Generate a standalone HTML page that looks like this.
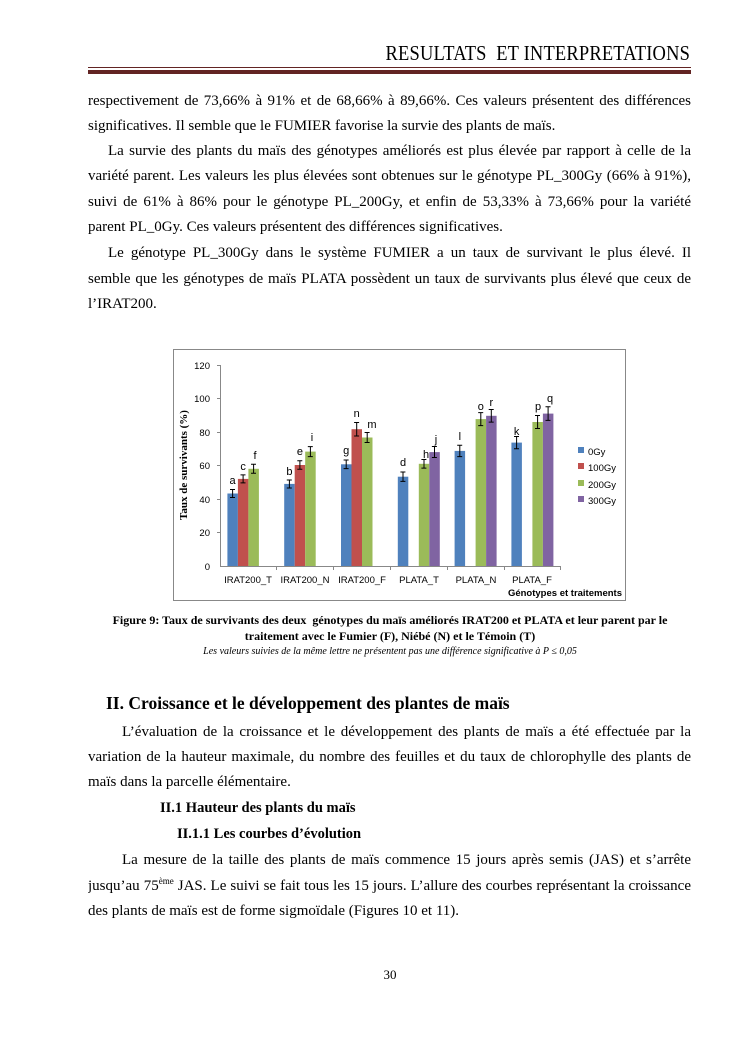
<!DOCTYPE html>
<html><head><meta charset="utf-8"><style>
body{margin:0;background:#fff}
#p{position:relative;width:745px;height:1053px;overflow:hidden;font-family:"Liberation Serif",serif;font-size:15px;color:#000}
.l{position:absolute;left:88px;width:603px;height:20px;line-height:20px;white-space:nowrap}
.j{text-align:justify;text-align-last:justify;white-space:normal;overflow:hidden}
.c{text-align:center}
</style></head><body><div id="p">
<div style="position:absolute;right:55px;top:41px;font-size:21px;font-family:'Liberation Serif',serif;letter-spacing:0.2px;transform:scaleX(0.88);transform-origin:right;white-space:nowrap">RESULTATS&nbsp; ET INTERPRETATIONS</div>
<div style="position:absolute;left:88px;width:603px;top:67px;height:1px;background:#622423"></div>
<div style="position:absolute;left:88px;width:603px;top:70px;height:4px;background:#622423"></div>

<div class="l j" style="top:91px">respectivement de 73,66% à 91% et de 68,66% à 89,66%. Ces valeurs présentent des différences</div>
<div class="l" style="top:116px">significatives. Il semble que le FUMIER favorise la survie des plants de maïs.</div>
<div class="l j" style="top:141px;left:108px;width:583px">La survie des plants du maïs des génotypes améliorés est plus élevée par rapport à celle de la</div>
<div class="l j" style="top:166px">variété parent. Les valeurs les plus élevées sont obtenues sur le génotype PL_300Gy (66% à 91%),</div>
<div class="l j" style="top:192px">suivi de 61% à 86% pour le génotype PL_200Gy, et enfin de 53,33% à 73,66% pour la variété</div>
<div class="l" style="top:217px">parent PL_0Gy. Ces valeurs présentent des différences significatives.</div>
<div class="l j" style="top:243px;left:108px;width:583px">Le génotype PL_300Gy dans le système FUMIER a un taux de survivant le plus élevé. Il</div>
<div class="l j" style="top:269px">semble que les génotypes de maïs PLATA possèdent un taux de survivants plus élevé que ceux de</div>
<div class="l" style="top:294px">l’IRAT200.</div>

<svg style="position:absolute;left:0;top:0" width="745" height="1053" font-family="Liberation Sans, sans-serif">
<rect x="173.5" y="349.5" width="452" height="251" fill="#fff" stroke="#888"/>
<g stroke="#888" stroke-width="1">
<line x1="220.5" y1="365" x2="220.5" y2="566"/>
<line x1="220" y1="566.5" x2="561" y2="566.5"/>
<line x1="217" y1="365.5" x2="220" y2="365.5"/><line x1="217" y1="398.5" x2="220" y2="398.5"/><line x1="217" y1="432.5" x2="220" y2="432.5"/><line x1="217" y1="465.5" x2="220" y2="465.5"/><line x1="217" y1="499.5" x2="220" y2="499.5"/><line x1="217" y1="532.5" x2="220" y2="532.5"/>
<line x1="276.5" y1="566" x2="276.5" y2="570"/><line x1="333.5" y1="566" x2="333.5" y2="570"/><line x1="390.5" y1="566" x2="390.5" y2="570"/><line x1="447.5" y1="566" x2="447.5" y2="570"/><line x1="504.5" y1="566" x2="504.5" y2="570"/><line x1="560.5" y1="566" x2="560.5" y2="570"/>
</g>
<g font-size="9.5" text-anchor="end" fill="#000">
<text x="210" y="369">120</text><text x="210" y="402">100</text><text x="210" y="436">80</text><text x="210" y="469">60</text><text x="210" y="503">40</text><text x="210" y="536">20</text><text x="210" y="570">0</text>
</g>
<g font-size="9.5" text-anchor="middle">
<text x="248" y="583">IRAT200_T</text><text x="305" y="583">IRAT200_N</text><text x="362" y="583">IRAT200_F</text><text x="419" y="583">PLATA_T</text><text x="476" y="583">PLATA_N</text><text x="532" y="583">PLATA_F</text>
</g>
<text x="622" y="596" font-size="9.5" font-weight="bold" text-anchor="end">Génotypes et traitements</text>
<text transform="translate(187,465) rotate(-90)" font-size="11" font-weight="bold" font-family="Liberation Serif, serif" text-anchor="middle">Taux de survivants (%)</text>
<g>
<rect x="227.4" y="493.5" width="10.5" height="72.5" fill="#4F81BD"/><rect x="237.9" y="478.9" width="10.5" height="87.1" fill="#C0504D"/><rect x="248.4" y="468.8" width="10.5" height="97.2" fill="#9BBB59"/>
<rect x="284.2" y="483.9" width="10.5" height="82.1" fill="#4F81BD"/><rect x="294.7" y="465" width="10.5" height="101" fill="#C0504D"/><rect x="305.2" y="451.6" width="10.5" height="114.4" fill="#9BBB59"/>
<rect x="341" y="464.3" width="10.5" height="101.7" fill="#4F81BD"/><rect x="351.5" y="429.2" width="10.5" height="136.8" fill="#C0504D"/><rect x="362" y="437.5" width="10.5" height="128.5" fill="#9BBB59"/>
<rect x="397.8" y="476.7" width="10.5" height="89.3" fill="#4F81BD"/><rect x="418.8" y="463.8" width="10.5" height="102.2" fill="#9BBB59"/><rect x="429.3" y="452.1" width="10.5" height="113.9" fill="#8064A2"/>
<rect x="454.6" y="450.9" width="10.5" height="115.1" fill="#4F81BD"/><rect x="475.6" y="419.1" width="10.5" height="146.9" fill="#9BBB59"/><rect x="486.1" y="415.8" width="10.5" height="150.2" fill="#8064A2"/>
<rect x="511.4" y="442.6" width="10.5" height="123.4" fill="#4F81BD"/><rect x="532.4" y="422" width="10.5" height="144" fill="#9BBB59"/><rect x="542.9" y="413.6" width="10.5" height="152.4" fill="#8064A2"/>
</g>
<g stroke="#000" stroke-width="1" fill="none">
<path d="M232.6 489.5v8M230 489.5h5M230 497.5h5"/><path d="M243.1 474.9v8M240.5 474.9h5M240.5 482.9h5"/><path d="M253.6 464.3v9M251 464.3h5M251 473.3h5"/>
<path d="M289.4 480v8M286.8 480h5M286.8 488h5"/><path d="M299.9 460.7v8.6M297.3 460.7h5M297.3 469.3h5"/><path d="M310.4 446.6v10M307.8 446.6h5M307.8 456.6h5"/>
<path d="M346.2 460v8.6M343.6 460h5M343.6 468.6h5"/><path d="M356.7 422.5v13.5M354.1 422.5h5M354.1 436h5"/><path d="M367.2 432.5v10M364.6 432.5h5M364.6 442.5h5"/>
<path d="M403 472v9.4M400.4 472h5M400.4 481.4h5"/><path d="M424 459.5v8.6M421.4 459.5h5M421.4 468.1h5"/><path d="M434.5 446.5v11M431.9 446.5h5M431.9 457.5h5"/>
<path d="M459.8 445.2v11.4M457.2 445.2h5M457.2 456.6h5"/><path d="M480.8 412.6v13M478.2 412.6h5M478.2 425.6h5"/><path d="M491.3 409.5v12.6M488.7 409.5h5M488.7 422.1h5"/>
<path d="M516.6 436.5v12.2M514 436.5h5M514 448.7h5"/><path d="M537.6 415.5v13M535 415.5h5M535 428.5h5"/><path d="M548.1 406.8v13.6M545.5 406.8h5M545.5 420.4h5"/>
</g>
<g font-size="11" text-anchor="middle">
<text x="232.6" y="484">a</text><text x="243.1" y="470">c</text><text x="255" y="459">f</text>
<text x="289.4" y="475">b</text><text x="299.9" y="455">e</text><text x="312" y="441">i</text>
<text x="346.2" y="454">g</text><text x="356.7" y="417">n</text><text x="372" y="428">m</text>
<text x="403" y="466">d</text><text x="426" y="458">h</text><text x="436" y="443">j</text>
<text x="459.8" y="440">l</text><text x="480.8" y="410">o</text><text x="491.3" y="406">r</text>
<text x="516.6" y="435">k</text><text x="538" y="410">p</text><text x="550" y="402">q</text>
</g>
<g font-size="9.5">
<rect x="578" y="447" width="6" height="6" fill="#4F81BD"/><text x="588" y="455">0Gy</text>
<rect x="578" y="463" width="6" height="6" fill="#C0504D"/><text x="588" y="471">100Gy</text>
<rect x="578" y="480" width="6" height="6" fill="#9BBB59"/><text x="588" y="488">200Gy</text>
<rect x="578" y="496" width="6" height="6" fill="#8064A2"/><text x="588" y="504">300Gy</text>
</g>
</svg>

<div class="l c" style="top:610px;font-size:12px;font-weight:bold;left:80px;width:620px">Figure 9: Taux de survivants des deux&nbsp; génotypes du maïs améliorés IRAT200 et PLATA et leur parent par le</div>
<div class="l c" style="top:626px;font-size:12px;font-weight:bold;left:80px;width:620px">traitement avec le Fumier (F), Niébé (N) et le Témoin (T)</div>
<div class="l c" style="top:642px;font-size:10px;font-style:italic;left:80px;width:620px">Les valeurs suivies de la même lettre ne présentent pas une différence significative à P ≤ 0,05</div>

<div class="l" style="top:693px;left:106px;font-size:17.5px;font-weight:bold">II. Croissance et le développement des plantes de maïs</div>
<div class="l j" style="top:722px;left:122px;width:569px">L’évaluation de la croissance et le développement des plants de maïs a été effectuée par la</div>
<div class="l j" style="top:747px">variation de la hauteur maximale, du nombre des feuilles et du taux de chlorophylle des plants de</div>
<div class="l" style="top:772px">maïs dans la parcelle élémentaire.</div>
<div class="l" style="top:798px;left:160px;font-weight:bold;font-size:14.5px">II.1 Hauteur des plants du maïs</div>
<div class="l" style="top:824px;left:177px;font-weight:bold;font-size:14.5px">II.1.1 Les courbes d’évolution</div>
<div class="l j" style="top:850px;left:122px;width:569px">La mesure de la taille des plants de maïs commence 15 jours après semis (JAS) et s’arrête</div>
<div class="l j" style="top:876px">jusqu’au 75<sup style="font-size:9px;line-height:0">ème</sup> JAS. Le suivi se fait tous les 15 jours. L’allure des courbes représentant la croissance</div>
<div class="l" style="top:901px">des plants de maïs est de forme sigmoïdale (Figures 10 et 11).</div>
<div class="l c" style="top:965px;left:360px;width:60px;font-size:13px">30</div>
</div></body></html>
